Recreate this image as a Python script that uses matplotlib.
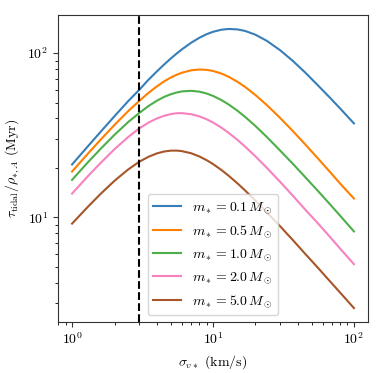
"""Tidal disruption timescale vs stellar velocity dispersion for several stellar masses."""

import matplotlib

matplotlib.use("Agg")
import matplotlib.pyplot as plt

plt.rcParams["font.family"] = "serif"
plt.rcParams["font.serif"] = ["cmr10", "DejaVu Serif"]
plt.rcParams["mathtext.fontset"] = "cm"
plt.rcParams["axes.unicode_minus"] = False
plt.rcParams["axes.formatter.use_mathtext"] = True

# values
sigma = [1, 1.3, 1.6, 2, 2.5, 3, 3.5, 4, 4.5, 5, 5.5, 6, 7, 8, 9, 10, 11.5, 13, 15,
         17, 20, 24, 30, 37, 45, 55, 67, 80, 100]
tau_m01 = [20.98, 27.17, 33.28, 41.27, 50.95, 59.8, 69.07, 77.40, 85.20, 92.44, 99.10,
           105.19, 115.66, 123.95, 130.26, 134.80, 138.85, 140.28, 139.31, 136.20, 129.40,
           118.98, 103.98, 89.34, 76.28, 64.12, 53.9, 45.9, 37.3]
tau_m05 = [19.0, 24.5, 29.8, 36.5, 44.3, 51.2, 57.4, 62.7, 67.25, 70.84, 73.69, 75.87,
           78.55, 79.45, 79.07, 77.83, 74.97, 71.52, 66.67, 61.95, 55.54, 48.39, 40.21,
           33.39, 27.87, 23.04, 19.05, 16.02, 13.0]
tau_m10 = [16.9, 21.7, 26.2, 31.8, 38.0, 43.2, 47.7, 51.3, 54.1, 56.1, 57.5, 58.4, 58.9,
           58.22, 56.75, 54.86, 51.69, 48.46, 44.37, 40.68, 35.96, 30.94, 25.44, 21.1,
           17.6, 14.6, 12.1, 10.2, 8.2]
tau_m20 = [13.95, 17.85, 21.5, 26.0, 30.8, 34.8, 37.8, 40.0, 41.5, 42.5, 43.0, 43.1,
           42.43, 41.17, 39.55, 37.78, 35.09, 32.53, 29.47, 26.81, 23.50, 20.08, 16.41,
           13.48, 11.17, 9.27, 7.66, 6.43, 5.18]
tau_m50 = [9.15, 11.63, 13.93, 16.68, 19.55, 21.8, 23.4, 24.5, 25.15, 25.45, 25.48, 25.30,
           24.54, 23.47, 22.29, 21.10, 19.38, 17.82, 16.02, 14.49, 12.62, 10.74, 8.8,
           7.24, 6.0, 4.97, 4.11, 3.47, 2.80]
masses = ["0.1", "0.5", "1.0", "2.0", "5.0"]
sigma_cut = 3.0

COLORS = ["#377eb8", "#ff7f00", "#4daf4a", "#f781bf", "#a65628"]

fig = plt.figure(figsize=(3.83, 3.73), dpi=100)
ax = fig.add_axes([0.1514, 0.1367, 0.8095, 0.8231])

for tau, m, c in zip([tau_m01, tau_m05, tau_m10, tau_m20, tau_m50], masses, COLORS):
    ax.plot(sigma, tau, color=c, lw=1.5, label=rf"$m_* = {m}\,M_\odot$")

ax.axvline(sigma_cut, color="k", ls="--", lw=1.5)

ax.set_xscale("log")
ax.set_yscale("log")
ax.set_xlabel(r"$\sigma_{v*}$ (km/s)", fontsize=10)
ax.set_ylabel(r"$\tau_{\rm tidal}/\rho_{*,A}$ (Myr)", fontsize=10)
ax.tick_params(labelsize=10, color="#333333")
for s in ax.spines.values():
    s.set_color("#333333")
ax.legend(loc="lower center", fontsize=10)

fig.savefig("out.png", dpi=100)
